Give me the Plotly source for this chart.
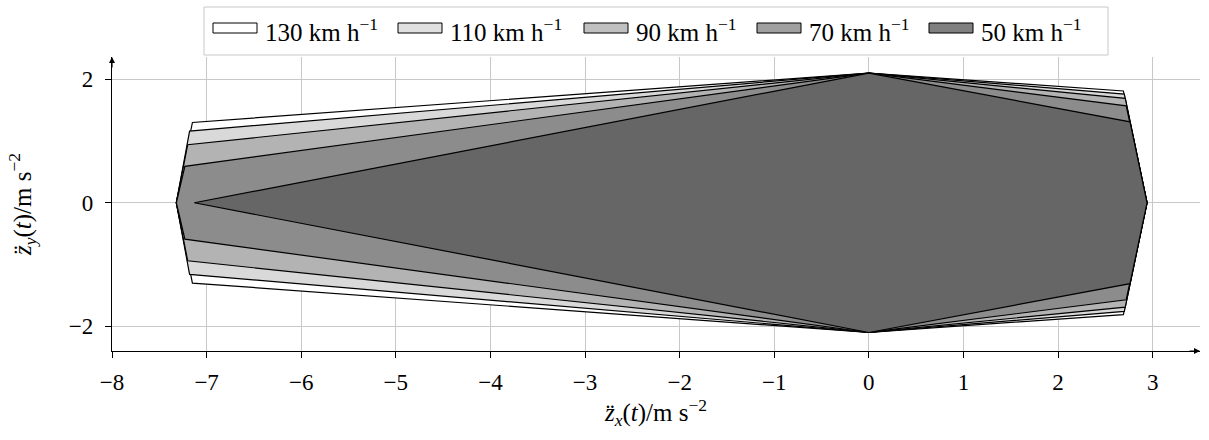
import plotly.graph_objects as go

# --- data -------------------------------------------------------------------
speed_labels = ["130", "110", "90", "70", "50"]
top_y = [2.1, 2.1, 2.1, 2.1, 2.1]
right_tip_x = [2.94, 2.94, 2.94, 2.94, 2.94]
right_vertex_x = [2.69, 2.70, 2.71, 2.72, 2.76]
right_vertex_y = [1.81, 1.76, 1.69, 1.57, 1.31]
left_vertex_x = [-7.15, -7.18, -7.20, -7.23, -7.13]
left_vertex_y = [1.30, 1.16, 0.94, 0.59, 0.0]
left_tip_x = [-7.32, -7.32, -7.32, -7.32, -7.13]

fill_colors = ["#ffffff", "#d9d9d9", "#b3b3b3", "#8c8c8c", "#666666"]
legend_colors = ["#ffffff", "#e0e0e0", "#c0c0c0", "#a0a0a0", "#808080"]

x_ticks = [-8, -7, -6, -5, -4, -3, -2, -1, 0, 1, 2, 3]
y_ticks = [-2, 0, 2]

FONT = "Liberation Serif, Times New Roman, serif"
FS_TICK = 23
FS_TITLE = 25
FS_LEG = 25

# layout geometry (pixels)
W, H = 1209, 440
ML, MR, MT, MB = 112, 9, 57, 89
PW, PH = W - ML - MR, H - MT - MB


def px(xp):
    return (xp - ML) / PW


def py(yp):
    return (H - MB - yp) / PH


fig = go.Figure()

for i, lab in enumerate(speed_labels):
    xs = [0, right_vertex_x[i], right_tip_x[i], right_vertex_x[i], 0,
          left_vertex_x[i], left_tip_x[i], left_vertex_x[i], 0]
    ys = [top_y[i], right_vertex_y[i], 0, -right_vertex_y[i], -top_y[i],
          -left_vertex_y[i], 0, left_vertex_y[i], top_y[i]]
    fig.add_trace(go.Scatter(
        x=xs, y=ys, mode="lines", fill="toself",
        fillcolor=fill_colors[i], line=dict(color="black", width=1.2),
        name=f"{lab} km h<sup>−1</sup>",
        showlegend=False, hoverinfo="skip"))

axis_common = dict(
    showline=True, linecolor="black", linewidth=1.2,
    ticks="outside", ticklen=6, tickcolor="black", tickwidth=1,
    showgrid=True, gridcolor="#c8c8c8", gridwidth=1,
    zeroline=False, automargin=False,
    tickfont=dict(family=FONT, size=FS_TICK, color="black"),
)

fig.update_xaxes(
    range=[-8, 3.5], tickvals=x_ticks, ticklabelstandoff=4,
    title=dict(text="<i>z\u0308</i><sub><i>x</i></sub>(<i>t</i>)/m s<sup>−2</sup>",
               font=dict(family=FONT, size=FS_TITLE, color="black"), standoff=6),
    **axis_common)
fig.update_yaxes(
    range=[-2.4, 2.36], tickvals=y_ticks, ticklabelstandoff=7,
    title=dict(text="<i>z\u0308</i><sub><i>y</i></sub>(<i>t</i>)/m s<sup>−2</sup>",
               font=dict(family=FONT, size=FS_TITLE, color="black"), standoff=30),
    **axis_common)

# axis arrows
fig.add_annotation(x=3.5, y=-2.4, xref="x", yref="y", ax=-12, ay=0,
                   showarrow=True, arrowhead=2, arrowsize=1, arrowwidth=1.2,
                   arrowcolor="black", text="")
fig.add_annotation(x=-8, y=2.36, xref="x", yref="y", ax=0, ay=12,
                   showarrow=True, arrowhead=2, arrowsize=1, arrowwidth=1.2,
                   arrowcolor="black", text="")

# legend (drawn as box + swatches + text)
legend_box = (204, 7, 1108, 55)
swatch_left = [213, 398, 584, 757, 929]
swatch_w, swatch_top, swatch_bot = 44, 23, 33
text_left = [263, 448, 634, 807, 979]

shapes = [dict(type="rect", xref="paper", yref="paper",
               x0=px(legend_box[0]), x1=px(legend_box[2]),
               y0=py(legend_box[3]), y1=py(legend_box[1]),
               line=dict(color="#c8c8c8", width=1), fillcolor="white", layer="above")]
for i, lab in enumerate(speed_labels):
    shapes.append(dict(type="rect", xref="paper", yref="paper",
                       x0=px(swatch_left[i]), x1=px(swatch_left[i] + swatch_w),
                       y0=py(swatch_bot), y1=py(swatch_top),
                       line=dict(color="black", width=1),
                       fillcolor=legend_colors[i], layer="above"))
    fig.add_annotation(x=px(text_left[i]), y=py(30), xref="paper", yref="paper",
                       xanchor="left", yanchor="middle", showarrow=False,
                       text=f"{lab} km h<sup>−1</sup>",
                       font=dict(family=FONT, size=FS_LEG, color="black"))

fig.update_layout(
    width=W, height=H,
    margin=dict(l=ML, r=MR, t=MT, b=MB, autoexpand=False),
    plot_bgcolor="white", paper_bgcolor="white",
    font=dict(family=FONT, size=FS_TICK, color="black"),
    showlegend=False,
    shapes=shapes,
)

fig.write_html("out.html",
               config={"displayModeBar": False},
               post_script="document.body.style.margin='0px';"
                           "document.body.style.overflow='hidden';")
